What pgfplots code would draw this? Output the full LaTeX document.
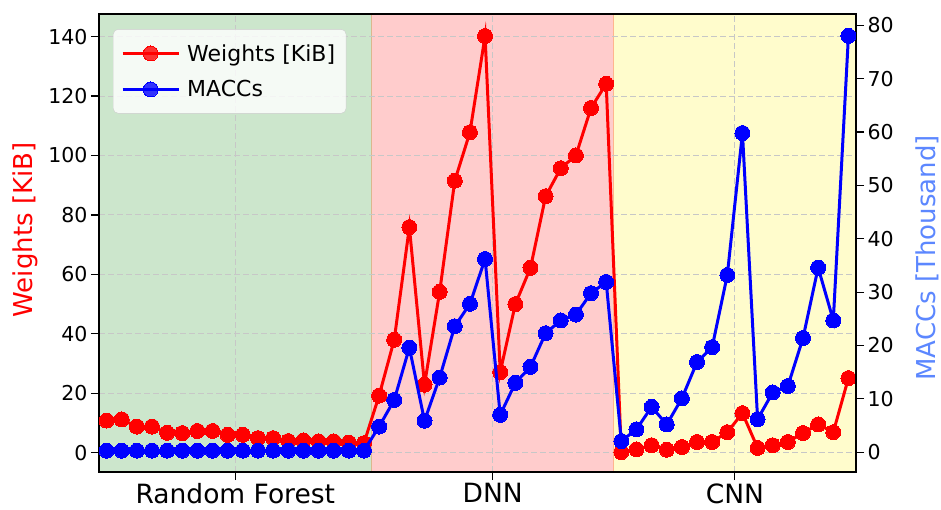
\documentclass[border=0pt]{standalone}
\usepackage{pgfplots}
\usepackage{pgfplotstable}
\pgfplotsset{compat=1.18}
\usepackage{fontspec}
\setmainfont{DejaVu Sans}
\definecolor{mgreen}{rgb}{0,0.5,0}
\definecolor{labblue}{rgb}{0.36,0.53,1.0}
\pgfplotstableread{
x w m
0 10.8 0.3
1 11.2 0.3
2 8.8 0.3
3 8.8 0.3
4 6.7 0.3
5 6.6 0.3
6 7.3 0.3
7 7.3 0.3
8 6.0 0.3
9 6.0 0.3
10 4.9 0.3
11 4.9 0.3
12 3.9 0.3
13 4.1 0.3
14 3.8 0.3
15 3.8 0.3
16 3.4 0.3
17 3.2 0.3
18 19.2 4.8
19 38.0 9.8
20 75.9 19.6
21 22.9 5.9
22 54.1 14.0
23 91.5 23.6
24 107.8 27.8
25 140.2 36.2
26 27.1 7.0
27 50.0 13.0
28 62.2 16.0
29 86.3 22.3
30 95.7 24.7
31 100.0 25.8
32 116.0 29.8
33 124.1 31.9
34 0.2 2.1
35 1.1 4.3
36 2.5 8.5
37 1.0 5.2
38 1.9 10.1
39 3.6 16.9
40 3.6 19.7
41 6.9 33.2
42 13.3 59.8
43 1.6 6.2
44 2.5 11.2
45 3.6 12.4
46 6.6 21.4
47 9.5 34.6
48 6.9 24.7
49 25.1 78.0
}\datatab
\begin{document}
\begin{tikzpicture}
\pgfplotsset{
  common/.style={
    scale only axis, width=757pt, height=458pt,
    xmin=-0.5, xmax=49.5,
    axis line style={black, line width=1.2pt},
    tick style={black, line width=1.2pt},
    major tick length=8pt,
    tick align=outside,
    /pgf/number format/assume math mode=true,
    tick label style={font=\fontsize{20.5}{24}\selectfont},
    label style={font=\fontsize{26}{31}\selectfont},
  }
}
\begin{axis}[common, set layers,
  ymin=-6.5, ymax=147.6,
  ytick={0,20,...,140},
  xtick={8.5,25.5,41.5},
  xticklabels={Random Forest,DNN,CNN},
  x tick label style={font=\fontsize{26.5}{31}\selectfont, text depth=0pt, yshift=0pt},
  xtick pos=bottom, ytick pos=left,
  grid=major,
  major grid style={black!22, dash pattern=on 6pt off 3pt, line width=1pt},
  ylabel={Weights [KiB]},
  ylabel style={at={(rel axis cs:0,0.5)}, anchor=center, xshift=13pt, yshift=74pt, color=red},
]
\addplot[forget plot, on layer=axis background, draw=none, fill=mgreen, fill opacity=0.2]
  coordinates {(-0.5,-6.5) (17.5,-6.5) (17.5,147.6) (-0.5,147.6)} -- cycle;
\addplot[forget plot, on layer=axis background, draw=none, fill=red, fill opacity=0.2]
  coordinates {(17.5,-6.5) (33.5,-6.5) (33.5,147.6) (17.5,147.6)} -- cycle;
\addplot[forget plot, on layer=axis background, draw=none, fill=yellow, fill opacity=0.2]
  coordinates {(33.5,-6.5) (49.5,-6.5) (49.5,147.6) (33.5,147.6)} -- cycle;
\addplot[forget plot, on layer=axis background, draw=orange!60!red, draw opacity=0.3, line width=1pt]
  coordinates {(17.5,-6.5) (17.5,147.6)};
\addplot[forget plot, on layer=axis background, draw=orange, draw opacity=0.3, line width=1pt]
  coordinates {(33.5,-6.5) (33.5,147.6)};
\addplot[red, line width=3pt, mark=*, mark size=7.5pt, mark options={solid, fill=red, draw=red, line width=0pt}] table[x=x, y=w] {\datatab};
\end{axis}
\begin{axis}[common,
  ymin=-3.7, ymax=82.1,
  ytick={0,10,...,80},
  axis x line=none,
  axis y line*=right,
  ylabel={MACCs [Thousand]},
  ylabel style={at={(rel axis cs:1,0.5)}, anchor=center, xshift=-15pt, yshift=-71pt, color=labblue},
  legend style={at={(rel axis cs:0.0185,0.967)}, anchor=north west,
    fill=white, fill opacity=0.8, text opacity=1, draw=black!20, draw opacity=1,
    rounded corners=5pt, font=\fontsize{22}{26}\selectfont,
    inner xsep=8pt, inner ysep=12pt, row sep=12pt,
    nodes={inner sep=3pt},
    column 2/.style={nodes={text width=168pt}}},
  legend cell align=left,
  legend image code/.code={\draw[mark repeat=2, mark phase=2] plot coordinates {(0pt,0pt) (28pt,0pt) (56pt,0pt)};},
]
\addlegendimage{red, line width=3pt, mark=*, mark size=7.5pt, mark options={solid, fill=red, draw=red, line width=0pt}}
\addlegendentry{\hspace*{4pt}Weights [KiB]}
\addplot[blue, line width=3pt, mark=*, mark size=7.5pt, mark options={solid, fill=blue, draw=blue, line width=0pt}] table[x=x, y=m] {\datatab};
\addlegendentry{\hspace*{4pt}MACCs}
\end{axis}
\pgfresetboundingbox
\path (-99pt,-37pt) rectangle (842pt,472pt);
\end{tikzpicture}
\end{document}
